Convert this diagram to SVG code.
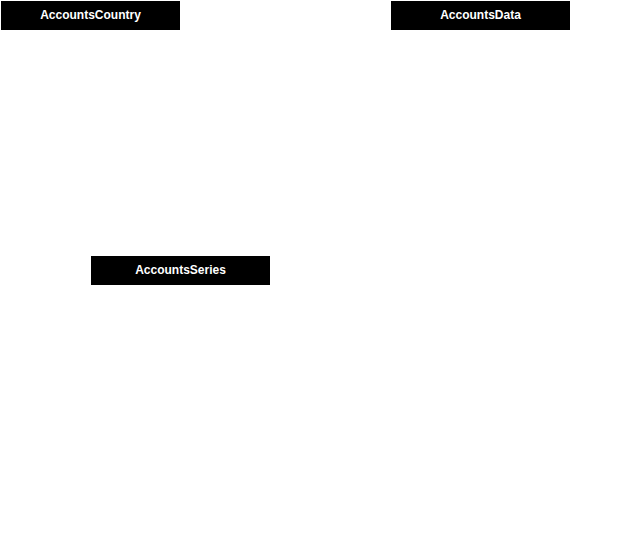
<svg xmlns="http://www.w3.org/2000/svg" width="641" height="552" viewBox="0 0 641 552">
<style>
.box{fill:#000}
.lbl{fill:#fff;font-family:"Liberation Sans",Arial,sans-serif;font-size:12px;font-weight:bold;text-anchor:middle;dominant-baseline:central}
</style>
<rect width="641" height="552" fill="#fff"/>
<g id="connectors"></g>
<g id="AccountsCountry"><rect class="box" x="1" y="1" width="179" height="29"/><text class="lbl" x="90.5" y="14.5">AccountsCountry</text></g>
<g id="AccountsData"><rect class="box" x="391" y="1" width="179" height="29"/><text class="lbl" x="480.5" y="14.5">AccountsData</text></g>
<g id="AccountsSeries"><rect class="box" x="91" y="256" width="179" height="29"/><text class="lbl" x="180.5" y="269.5">AccountsSeries</text></g>
</svg>
